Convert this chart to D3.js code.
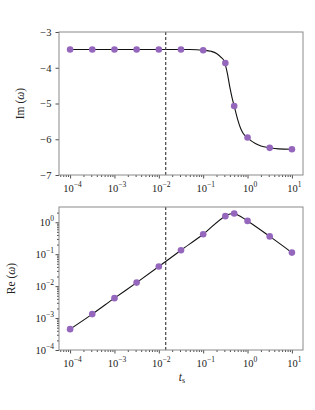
<!DOCTYPE html>
<html><head><meta charset="utf-8">
<script src="https://cdn.jsdelivr.net/npm/d3@7"></script>
<style>
body{margin:0;background:#fff;}
svg{display:block;}
text{font-family:"Liberation Serif","DejaVu Serif",serif;fill:#222;}
</style></head>
<body><svg id="c" width="315" height="410"></svg>
<script>
// ---- data ----
const ptsT = [1e-4, 3.16e-4, 1e-3, 3.16e-3, 1e-2, 3.16e-2, 1e-1, 0.316, 0.5, 1, 3.16, 10];
const ptsIm = [-3.49, -3.49, -3.49, -3.49, -3.49, -3.49, -3.51, -3.87, -5.07, -5.95, -6.24, -6.28];
const ptsRe = [4.5e-4, 1.33e-3, 4.2e-3, 1.29e-2, 4.1e-2, 0.133, 0.42, 1.55, 1.87, 1.1, 0.36, 0.112];
const curveImT = [1e-4, 1e-3, 1e-2, 0.05, 0.1, 0.15, 0.2, 0.25, 0.3, 0.35, 0.4, 0.45, 0.5, 0.6, 0.7, 0.8, 1.0, 1.5, 2, 3.16, 5, 10];
const curveIm = [-3.49, -3.49, -3.49, -3.49, -3.51, -3.54, -3.6, -3.7, -3.83, -4.15, -4.55, -4.85, -5.07, -5.45, -5.7, -5.84, -5.96, -6.12, -6.19, -6.24, -6.27, -6.28];
const curveReT = [1e-4, 3.16e-4, 1e-3, 3.16e-3, 1e-2, 3.16e-2, 1e-1, 0.316, 0.4, 0.5, 0.6, 1, 3.16, 10];
const curveRe = [4.5e-4, 1.33e-3, 4.2e-3, 1.29e-2, 4.1e-2, 0.133, 0.42, 1.55, 1.8, 1.87, 1.7, 1.1, 0.36, 0.112];
const tsDash = 0.0143;
const xTickExp = [-4, -3, -2, -1, 0, 1];
const imTicks = [-7, -6, -5, -4, -3];
const reTickExp = [-4, -3, -2, -1, 0];

// ---- layout ----
const svg = d3.select("#c");
const L = 59, R = 303;
const top1 = 32, bot1 = 175, top2 = 207, bot2 = 350;
const purple = "#9467bd";
const FS = 10.5, SUP = 7.5;
const x = d3.scaleLog().domain([Math.pow(10, -4.25), Math.pow(10, 1.25)]).range([L, R]);
const yIm = d3.scaleLinear().domain([-7, -3]).range([bot1, top1]);
const yRe = d3.scaleLog().domain([1e-4, 3]).range([bot2, top2]);

function minorTicks(lo, hi) {
  const out = [];
  for (let e = lo; e <= hi; e++) for (let m = 2; m <= 9; m++) out.push(m * Math.pow(10, e));
  return out;
}

function expLabel(sel, e) {
  sel.append("tspan").text("10");
  sel.append("tspan").attr("dy", -5).attr("font-size", SUP).text(e < 0 ? "\u2212" + (-e) : String(e));
}

function xAxis(yb) {
  const g = svg.append("g").attr("transform", `translate(0,${yb})`);
  const minors = minorTicks(-5, 1).filter(v => v > x.domain()[0] && v < x.domain()[1]);
  g.call(d3.axisBottom(x).tickValues(minors).tickSize(2).tickFormat(""));
  g.append("g").call(d3.axisBottom(x).tickValues(xTickExp.map(e => Math.pow(10, e))).tickSize(3.5).tickFormat(""));
  g.selectAll(".domain").remove();
  g.selectAll("line").attr("stroke", "#222").attr("stroke-width", 0.8);
  xTickExp.forEach(e => {
    const t = g.append("text").attr("x", x(Math.pow(10, e)) + 2.5).attr("y", 17).attr("text-anchor", "middle").attr("font-size", FS);
    expLabel(t, e);
  });
}

function frame(t, b) {
  svg.append("rect").attr("x", L).attr("y", t).attr("width", R - L).attr("height", b - t)
    .attr("fill", "none").attr("stroke", "#8a8a8a").attr("stroke-width", 1);
}

// ---- top panel ----
const lineIm = d3.line().x((d, i) => x(curveImT[i])).y(d => yIm(d)).curve(d3.curveMonotoneX);
svg.append("path").datum(curveIm).attr("d", lineIm).attr("fill", "none").attr("stroke", "#111").attr("stroke-width", 1.1);
svg.append("g").selectAll("circle").data(ptsIm).join("circle")
  .attr("cx", (d, i) => x(ptsT[i])).attr("cy", d => yIm(d)).attr("r", 3.3).attr("fill", purple);
const gy1 = svg.append("g").attr("transform", `translate(${L},0)`)
  .call(d3.axisLeft(yIm).tickValues(imTicks).tickSize(3.5).tickFormat(d => "\u2212" + (-d)));
gy1.selectAll(".domain").remove();
gy1.selectAll("line").attr("stroke", "#222").attr("stroke-width", 0.8);
gy1.selectAll("text").attr("font-size", FS).attr("fill", "#222").attr("dx", -1);
xAxis(bot1);
svg.append("line").attr("x1", x(tsDash)).attr("x2", x(tsDash)).attr("y1", top1).attr("y2", bot1)
  .attr("stroke", "#444").attr("stroke-width", 1.2).attr("stroke-dasharray", "3,2");
frame(top1, bot1);
const yl1 = svg.append("text").attr("transform", `translate(24,${(top1 + bot1) / 2}) rotate(-90)`)
  .attr("text-anchor", "middle").attr("font-size", 11.5);
yl1.append("tspan").text("Im (");
yl1.append("tspan").attr("font-style", "italic").text("\u03c9");
yl1.append("tspan").text(")");

// ---- bottom panel ----
const lineRe = d3.line().x((d, i) => x(curveReT[i])).y(d => yRe(d)).curve(d3.curveMonotoneX);
svg.append("path").datum(curveRe).attr("d", lineRe).attr("fill", "none").attr("stroke", "#111").attr("stroke-width", 1.1);
svg.append("g").selectAll("circle").data(ptsRe).join("circle")
  .attr("cx", (d, i) => x(ptsT[i])).attr("cy", d => yRe(d)).attr("r", 3.3).attr("fill", purple);
const gy2 = svg.append("g").attr("transform", `translate(${L},0)`);
const yMinors = minorTicks(-4, 0).filter(v => v < 3);
gy2.call(d3.axisLeft(yRe).tickValues(yMinors).tickSize(2).tickFormat(""));
gy2.append("g").call(d3.axisLeft(yRe).tickValues(reTickExp.map(e => Math.pow(10, e))).tickSize(3.5).tickFormat(""));
gy2.selectAll(".domain").remove();
gy2.selectAll("line").attr("stroke", "#222").attr("stroke-width", 0.8);
reTickExp.forEach(e => {
  const t = gy2.append("text").attr("x", -5).attr("y", yRe(Math.pow(10, e)) + 4).attr("text-anchor", "end").attr("font-size", FS);
  expLabel(t, e);
});
xAxis(bot2);
svg.append("line").attr("x1", x(tsDash)).attr("x2", x(tsDash)).attr("y1", top2).attr("y2", bot2)
  .attr("stroke", "#444").attr("stroke-width", 1.2).attr("stroke-dasharray", "3,2");
frame(top2, bot2);
const yl2 = svg.append("text").attr("transform", `translate(15,${(top2 + bot2) / 2}) rotate(-90)`)
  .attr("text-anchor", "middle").attr("font-size", 11.5);
yl2.append("tspan").text("Re (");
yl2.append("tspan").attr("font-style", "italic").text("\u03c9");
yl2.append("tspan").text(")");
const xl = svg.append("text").attr("x", 182).attr("y", 381).attr("text-anchor", "middle").attr("font-size", 11.5);
xl.append("tspan").attr("font-style", "italic").text("t");
xl.append("tspan").attr("dy", 2).attr("font-size", 8).text("s");
</script></body></html>
